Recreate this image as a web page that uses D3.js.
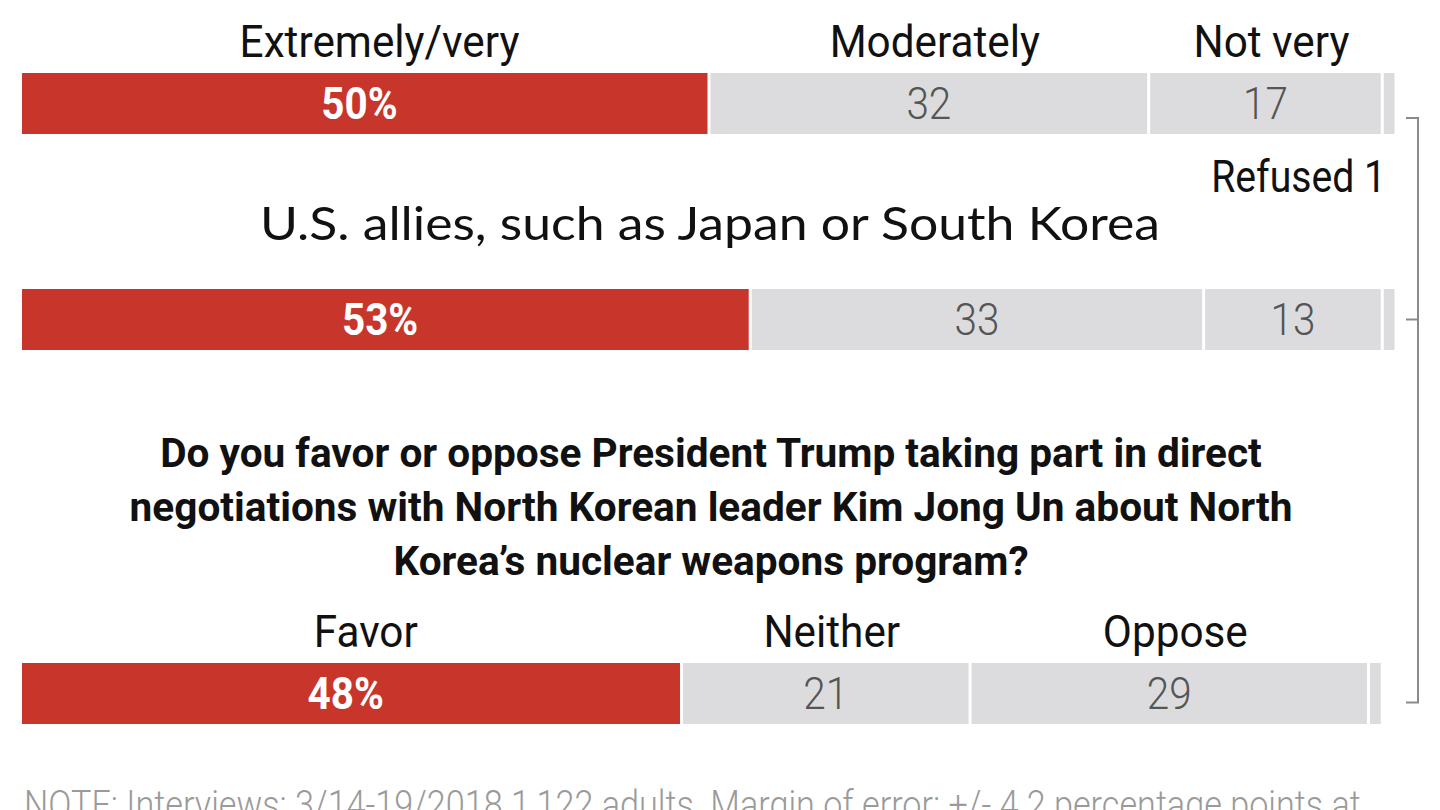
<!DOCTYPE html>
<html>
<head>
<meta charset="utf-8">
<script src="https://cdn.jsdelivr.net/npm/d3@7"></script>
<style>
  html, body { margin: 0; padding: 0; background: #fff; }
  svg { display: block; }
</style>
</head>
<body>
<svg id="chart" width="1440" height="810"></svg>
<script>
// ---- data ----
const rowNames = ["Confidence A", "U.S. allies", "Direct negotiations"];
const categoriesTop = ["Extremely/very", "Moderately", "Not very", "Refused"];
const categoriesBottom = ["Favor", "Neither", "Oppose", "Refused"];
const valuesRow1 = [50, 32, 17, 1];
const valuesRow2 = [53, 33, 13, 1];
const valuesRow3 = [48, 21, 29, 1];
const refusedLabel = "Refused 1";
const subheading = "U.S. allies, such as Japan or South Korea";
const questionLines = [
  "Do you favor or oppose President Trump taking part in direct",
  "negotiations with North Korean leader Kim Jong Un about North",
  "Korea\u2019s nuclear weapons program?"
];
const noteText = "NOTE: Interviews: 3/14-19/2018 1,122 adults. Margin of error: +/- 4.2 percentage points at";

// ---- layout / style ----
const RED = "#c8352a", GRAY = "#dcdcde";
const COND = "Roboto, 'Liberation Sans', sans-serif";
const SX = 0.92; // horizontal condensing
const svg = d3.select("#chart");
const x = d3.scaleLinear().domain([0, 100]).range([22, 1396]);
const barH = 61;
const rows = [
  { values: valuesRow1, y: 73, labels: categoriesTop },
  { values: valuesRow2, y: 289, labels: null },
  { values: valuesRow3, y: 663, labels: categoriesBottom }
];

function ctext(g, txt, cx, cy, opts) {
  const t = g.append("text")
    .attr("transform", `translate(${cx},${cy}) scale(${opts.sx || SX},1)`)
    .attr("text-anchor", opts.anchor || "middle")
    .attr("font-family", opts.family || COND)
    .attr("font-size", opts.size)
    .attr("font-weight", opts.weight || 400)
    .attr("fill", opts.fill || "#111")
    .text(txt);
  return t;
}

rows.forEach((row, ri) => {
  const segs = [];
  let acc = 0;
  row.values.forEach((v, i) => { segs.push({ v, i, start: acc, end: acc + v }); acc += v; });
  const g = svg.append("g");
  g.selectAll("rect").data(segs).join("rect")
    .attr("x", d => x(d.start) + (d.i ? 1.5 : 0))
    .attr("y", row.y)
    .attr("width", d => Math.max(0, x(d.end) - x(d.start) - (d.i ? 3 : 1.5)))
    .attr("height", barH)
    .attr("fill", d => d.i === 0 ? RED : GRAY);
  segs.slice(0, 3).forEach(d => {
    const cx = (x(d.start) + x(d.end)) / 2 - (d.i === 0 ? 6 : 0);
    ctext(g, d.i === 0 ? d.v + "%" : String(d.v), cx, row.y + 46, {
      size: 44, weight: d.i === 0 ? 700 : 300, fill: d.i === 0 ? "#fff" : "#555"
    });
    if (row.labels) {
      ctext(g, row.labels[d.i], (x(d.start) + x(d.end)) / 2 + (d.i === 0 ? 14 : 6), row.y - 16, { size: 45, weight: 400, fill: "#111", sx: 0.94 });
    }
  });
});

// Refused label
ctext(svg, refusedLabel, x(100) - 10, 192, { size: 44, anchor: "end", fill: "#111", sx: 0.89 });

// subheading
svg.append("text")
  .attr("transform", "translate(710,240) scale(1.1,1)")
  .attr("text-anchor", "middle")
  .attr("font-family", "Lato, 'Open Sans', sans-serif")
  .attr("font-size", 47)
  .attr("fill", "#111")
  .text(subheading);

// question
questionLines.forEach((ln, i) => {
  ctext(svg, ln, 711, 467 + i * 54, { size: 41, weight: 700, fill: "#111", sx: 0.99 });
});

// bracket
const bx = 1418, tickL = 12;
const yTop = rows[0].y + 45, yMid = rows[1].y + barH / 2, yBot = rows[2].y + barH / 2 + 9;
const br = svg.append("g").attr("stroke", "#8a8a8a").attr("stroke-width", 2).attr("fill", "none");
br.append("path").attr("d", `M${bx - tickL},${yTop}H${bx}V${yBot}H${bx - tickL}`);
br.append("path").attr("d", `M${bx - tickL},${yMid}H${bx}`);

// note
ctext(svg, noteText, 24, 818, { size: 38, anchor: "start", fill: "#9a9a9a", weight: 300, sx: 0.9 });
</script>
</body>
</html>
